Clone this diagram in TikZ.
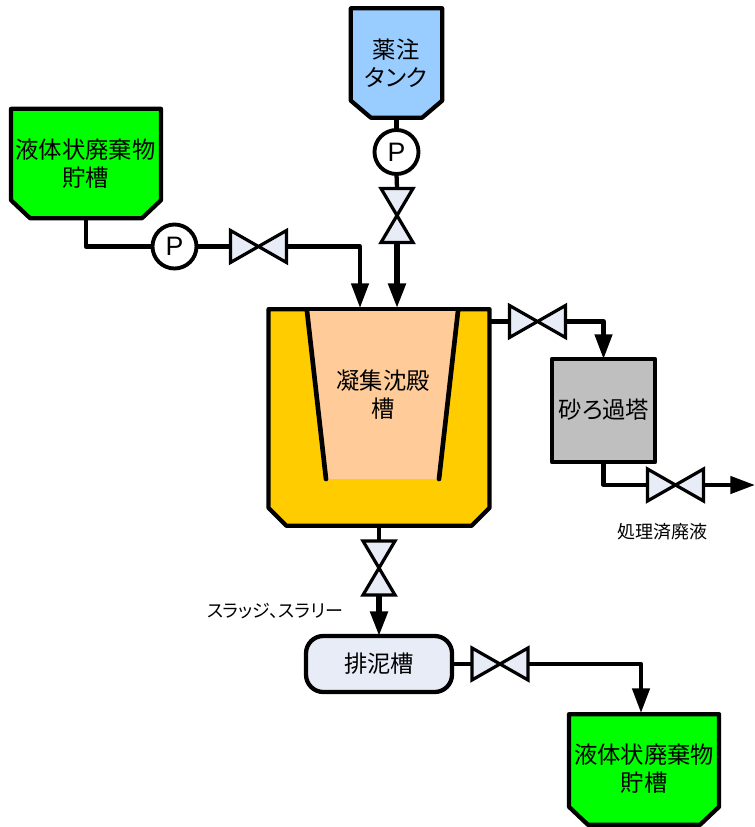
\documentclass[tikz,border=0pt]{standalone}
\usepackage{fontspec}
\setmainfont{Noto Sans CJK JP}
\newfontfamily\latinfont{Liberation Sans}
\newfontfamily\paltfont[RawFeature=+palt]{Noto Sans CJK JP}
\usetikzlibrary{arrows.meta,calc}
\definecolor{tankgreen}{HTML}{00FF00}
\definecolor{tankblue}{HTML}{99CCFF}
\definecolor{tankorange}{HTML}{FFCC00}
\definecolor{innerorange}{HTML}{FFCC99}
\definecolor{valvefill}{HTML}{E7ECF7}
\definecolor{filtergrey}{HTML}{BFBFBF}
\newcommand{\chamfertank}[4]{% name, chamfer x, chamfer y, fill
  \draw[vesselline,fill=#4] (#1.north west) -- (#1.north east)
    -- ($(#1.south east)+(0,-#3)$) -- ($(#1.south east)+(-#2,0)$)
    -- ($(#1.south west)+(#2,0)$) -- ($(#1.south west)+(0,-#3)$) -- cycle;}
\tikzset{
  x=0.75pt,y=-0.75pt,
  bigtext/.style={font=\fontsize{17.5pt}{21pt}\selectfont,align=center,text=black},
  smalltext/.style={font=\fontsize{13.5pt}{16pt}\selectfont,inner sep=0pt},
  slurrytext/.style={font=\paltfont\fontsize{13.5pt}{16pt}\selectfont,inner sep=0pt},
  vesselline/.style={draw=black,line width=3.2pt,line join=round},
  vessel/.style={vesselline,inner sep=0pt,outer sep=0pt},
  tankframe/.style={inner sep=0pt,outer sep=0pt,rectangle},
  pumpnode/.style={circle,draw=black,line width=2.9pt,fill=white,minimum size=33pt,inner sep=0pt,outer sep=0pt,
    font=\latinfont\fontsize{20pt}{20pt}\selectfont},
  pipe/.style={draw=black,line width=3.2pt,line join=round},
  thickpipe/.style={draw=black,line width=3.9pt,line join=round},
  flow/.style={-{Triangle[length=18.5pt,width=12.8pt]}},
  valveanchor/.style={inner sep=0pt,outer sep=0pt,minimum width=42pt,minimum height=24pt},
  valveanchorv/.style={inner sep=0pt,outer sep=0pt,minimum width=24pt,minimum height=41pt},
  hvalve/.pic={\draw[draw=black,line width=2.4pt,line join=miter,fill=valvefill]
     (-28,-16) -- (28,16) -- (28,-16) -- (-28,16) -- cycle;},
  vvalve/.pic={\draw[draw=black,line width=2.4pt,line join=miter,fill=valvefill]
     (-16,-27) -- (16,27) -- (-16,27) -- (16,-27) -- cycle;},
}
\begin{document}
\begin{tikzpicture}
\useasboundingbox (0,0) rectangle (755,827);

% vessels
\node[tankframe,minimum width=68.5pt,minimum height=82pt] (reagent) at (396.5,63) {};
\chamfertank{reagent}{20}{17}{tankblue}
\node[bigtext,font=\paltfont\fontsize{17.5pt}{21pt}\selectfont] (reagentlabel) at (396,63) {薬注\\タンク};

\node[tankframe,minimum width=112.5pt,minimum height=82pt] (wasteA) at (86,163.5) {};
\chamfertank{wasteA}{19}{18}{tankgreen}
\node[bigtext] (wasteAlabel) at (85.5,163.5) {液体状廃棄物\\貯槽};

\node[tankframe,minimum width=165.75pt,minimum height=162.5pt] (clar) at (379,417.5) {};
\chamfertank{clar}{18}{18}{tankorange}
\fill[innerorange] (307,311) -- (458,311) -- (439,479) -- (326,479) -- cycle;
\draw[line width=3.5pt,line cap=round] (307,311) -- (326,479);
\draw[line width=3.5pt,line cap=round] (458,311) -- (439,479);
\node[bigtext] (clarlabel) at (383,395) {凝集沈殿\\槽};

\node[vessel,fill=filtergrey,minimum width=77.25pt,minimum height=77.25pt] (filter) at (603.5,410.5) {};
\node[bigtext,font=\paltfont\fontsize{17.5pt}{21pt}\selectfont] (filterlabel) at (604,410) {砂ろ過塔};
\node[vessel,bigtext,rounded corners=13pt,fill=valvefill,minimum width=109.5pt,minimum height=42pt] (sludge) at (379,664) {排泥槽};

\node[tankframe,minimum width=112.5pt,minimum height=83pt] (wasteB) at (644,769.5) {};
\chamfertank{wasteB}{19}{18}{tankgreen}
\node[bigtext] (wasteBlabel) at (644,769) {液体状廃棄物\\貯槽};

% pumps and valve positions
\node[pumpnode] (pumpT) at (396.5,152) {P};
\node[pumpnode] (pumpL) at (174.5,246.5) {P};
\node[valveanchorv] (vT) at (397,215.5) {};
\node[valveanchor] (vL) at (258.5,246.5) {};
\node[valveanchor] (vR) at (537.5,321.5) {};
\node[valveanchor] (vF) at (675.5,485) {};
\node[valveanchorv] (vB) at (379,568) {};
\node[valveanchor] (vS) at (500,664) {};
\coordinate (tipL) at (360,308);
\coordinate (tipT) at (397,308);
\coordinate (tipOut) at (755,485);
\coordinate (tipW) at (641,713);
\coordinate (outR) at (490,321.5);

% connectors
\draw[pipe] (reagent.south) -- (pumpT.north);
\draw[pipe] (pumpT.south) -- (vT.north);
\draw[thickpipe,flow] (vT.south) -- (tipT);
\draw[pipe] (wasteA.south) |- (pumpL.west);
\draw[pipe] (pumpL.east) -- (vL.west);
\draw[pipe,flow] (vL.east) -| (tipL);
\draw[pipe] (outR) -- (vR.west);
\draw[pipe,flow] (vR.east) -| (filter.north);
\draw[pipe] (filter.south) |- (vF.west);
\draw[pipe,flow] (vF.east) -- (tipOut);
\draw[pipe] (clar.south) -- (vB.north);
\draw[thickpipe,flow] (vB.south) -- (sludge.north);
\draw[pipe] (sludge.east) -- (vS.west);
\draw[pipe,flow] (vS.east) -| (tipW);

% valves
\pic at (vT) {vvalve};
\pic at (vL) {hvalve};
\pic at (vR) {hvalve};
\pic at (vF) {hvalve};
\pic at (vB) {vvalve};
\pic at (vS) {hvalve};

% labels
\node[smalltext] (treated) at (662,532) {処理済廃液};
\node[slurrytext] (slurry) at (275,611) {スラッジ、スラリー};
\end{tikzpicture}
\end{document}
